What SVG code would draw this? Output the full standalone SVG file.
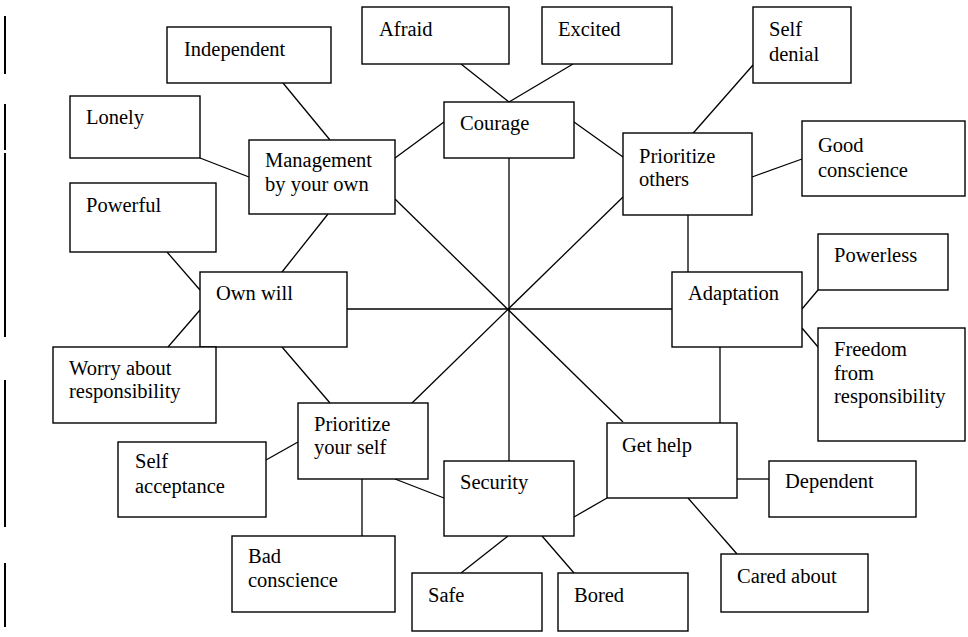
<svg xmlns="http://www.w3.org/2000/svg" width="968" height="637" viewBox="0 0 968 637">
<style>
.b{fill:#fff;stroke:#000;stroke-width:1.4}
.c line{stroke:#000;stroke-width:1.3}
text{font-size:20.5px;fill:#000}
.bar{stroke:#000;stroke-width:2}
</style>
<rect width="968" height="637" fill="#fff"/>
<g id="margin-bars">
<line class="bar" x1="5" y1="16" x2="5" y2="74"/>
<line class="bar" x1="5" y1="104" x2="5" y2="150"/>
<line class="bar" x1="5" y1="153" x2="5" y2="337"/>
<line class="bar" x1="5" y1="380" x2="5" y2="527"/>
<line class="bar" x1="5" y1="563" x2="5" y2="627"/>
</g>
<g id="connectors" class="c">
<line x1="283" y1="83" x2="330" y2="140"/>
<line x1="200" y1="158" x2="249" y2="177"/>
<line x1="461" y1="64" x2="509" y2="102"/>
<line x1="573" y1="64" x2="509" y2="102"/>
<line x1="444" y1="122" x2="395" y2="158"/>
<line x1="574" y1="122" x2="623" y2="157"/>
<line x1="509" y1="158" x2="509" y2="461"/>
<line x1="395" y1="199" x2="623" y2="422"/>
<line x1="623" y1="197" x2="412" y2="403"/>
<line x1="347" y1="309" x2="672" y2="309"/>
<line x1="753" y1="65" x2="688" y2="139"/>
<line x1="752" y1="177" x2="802" y2="159"/>
<line x1="688" y1="215" x2="688" y2="272"/>
<line x1="802" y1="309" x2="818" y2="290"/>
<line x1="802" y1="328" x2="818" y2="347"/>
<line x1="720" y1="347" x2="720" y2="423"/>
<line x1="737" y1="479" x2="769" y2="479"/>
<line x1="688" y1="498" x2="737" y2="554"/>
<line x1="395" y1="479" x2="444" y2="498"/>
<line x1="607" y1="498" x2="574" y2="517"/>
<line x1="508" y1="536" x2="461" y2="573"/>
<line x1="542" y1="536" x2="574" y2="573"/>
<line x1="362" y1="479" x2="362" y2="536"/>
<line x1="266" y1="460" x2="298" y2="442"/>
<line x1="167" y1="252" x2="200" y2="290"/>
<line x1="168" y1="347" x2="200" y2="310"/>
<line x1="282" y1="272" x2="328" y2="214"/>
<line x1="282" y1="347" x2="330" y2="403"/>
</g>
<g font-family="'Liberation Serif', 'DejaVu Serif', serif">
<g id="independent"><rect class="b" x="167" y="27" width="164" height="56"/><text x="184" y="56">Independent</text></g>
<g id="lonely"><rect class="b" x="70" y="96" width="130" height="62"/><text x="86" y="124">Lonely</text></g>
<g id="management"><rect class="b" x="249" y="140" width="146" height="74"/><text x="265" y="167">Management</text><text x="265" y="191">by your own</text></g>
<g id="powerful"><rect class="b" x="70" y="183" width="146" height="69"/><text x="86" y="212">Powerful</text></g>
<g id="own-will"><rect class="b" x="200" y="272" width="147" height="75"/><text x="216" y="300">Own will</text></g>
<g id="worry"><rect class="b" x="53" y="347" width="163" height="76"/><text x="69" y="375">Worry about</text><text x="69" y="398">responsibility</text></g>
<g id="afraid"><rect class="b" x="362" y="7" width="147" height="57"/><text x="379" y="36">Afraid</text></g>
<g id="excited"><rect class="b" x="542" y="7" width="130" height="57"/><text x="558" y="36">Excited</text></g>
<g id="courage"><rect class="b" x="444" y="102" width="130" height="56"/><text x="460" y="130">Courage</text></g>
<g id="self-denial"><rect class="b" x="753" y="7" width="98" height="76"/><text x="769" y="36">Self</text><text x="769" y="61">denial</text></g>
<g id="prioritize-others"><rect class="b" x="623" y="133" width="129" height="82"/><text x="639" y="163">Prioritize</text><text x="639" y="186">others</text></g>
<g id="good-conscience"><rect class="b" x="802" y="121" width="163" height="75"/><text x="818" y="152">Good</text><text x="818" y="177">conscience</text></g>
<g id="adaptation"><rect class="b" x="672" y="272" width="130" height="75"/><text x="688" y="300">Adaptation</text></g>
<g id="powerless"><rect class="b" x="818" y="234" width="130" height="56"/><text x="834" y="262">Powerless</text></g>
<g id="freedom"><rect class="b" x="818" y="328" width="147" height="113"/><text x="834" y="356">Freedom</text><text x="834" y="380">from</text><text x="834" y="403">responsibility</text></g>
<g id="get-help"><rect class="b" x="607" y="423" width="130" height="75"/><text x="622" y="452">Get help</text></g>
<g id="dependent"><rect class="b" x="769" y="461" width="147" height="56"/><text x="785" y="488">Dependent</text></g>
<g id="cared-about"><rect class="b" x="721" y="554" width="147" height="58"/><text x="737" y="583">Cared about</text></g>
<g id="security"><rect class="b" x="444" y="461" width="130" height="75"/><text x="460" y="489">Security</text></g>
<g id="safe"><rect class="b" x="412" y="573" width="130" height="58"/><text x="428" y="602">Safe</text></g>
<g id="bored"><rect class="b" x="558" y="573" width="130" height="58"/><text x="574" y="602">Bored</text></g>
<g id="prioritize-self"><rect class="b" x="298" y="403" width="130" height="76"/><text x="314" y="431">Prioritize</text><text x="314" y="454">your self</text></g>
<g id="self-acceptance"><rect class="b" x="118" y="442" width="148" height="75"/><text x="135" y="468">Self</text><text x="135" y="493">acceptance</text></g>
<g id="bad-conscience"><rect class="b" x="232" y="536" width="163" height="76"/><text x="248" y="563">Bad</text><text x="248" y="587">conscience</text></g>
</g>
</svg>
